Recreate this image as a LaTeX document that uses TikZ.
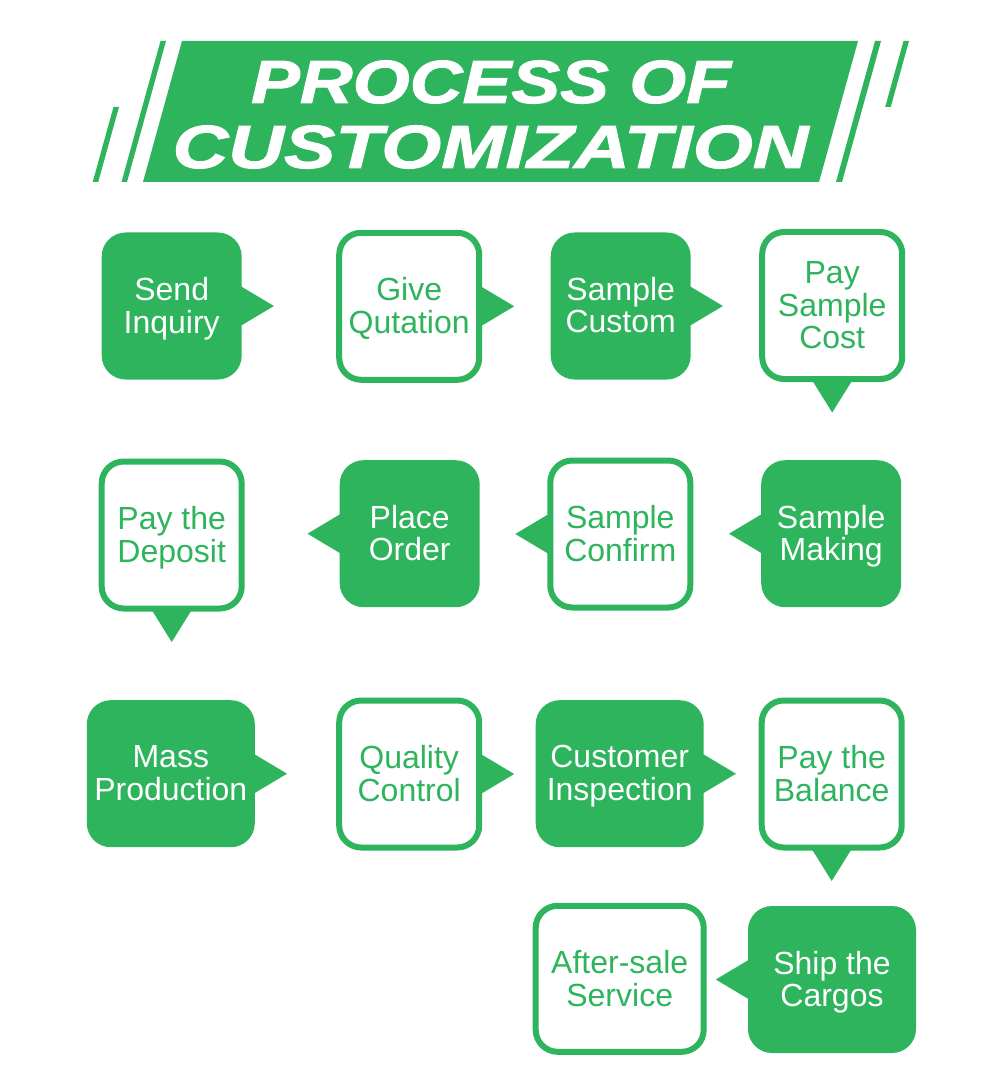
\documentclass[tikz,border=0pt]{standalone}
\usepackage{fontspec}
\setmainfont{Liberation Sans}
\newfontfamily\titlefont[FakeBold=1.5]{Liberation Sans Bold Italic}
\usetikzlibrary{calc}
\definecolor{gr}{RGB}{45,180,92}
\tikzset{
  fbox/.style={fill=gr, rounded corners=24pt, minimum width=140pt, minimum height=147pt, inner sep=0pt},
  obox/.style={draw=gr, fill=white, line width=6pt, rounded corners=22pt, minimum width=140pt, minimum height=147pt, inner sep=0pt},
  widebox/.style={minimum width=168pt},
  ftxt/.style={text=white, inner sep=0pt, font=\fontsize{32}{32}\selectfont},
  otxt/.style={text=gr, inner sep=0pt, font=\fontsize{32}{32}\selectfont},
  ptr/.style={fill=gr},
  ttl/.style={text=white, inner sep=0pt, anchor=base, font=\titlefont\fontsize{61}{61}\selectfont}
}
\newcommand\lines[1]{\begin{tabular}{@{}c@{}}#1\end{tabular}}
\newcommand\rptr[1]{\fill[ptr] ($(#1.east)+(-4,-21.5)$) -- ($(#1.east)+(32,0)$) -- ($(#1.east)+(-4,21.5)$) -- cycle;}
\newcommand\lptr[1]{\fill[ptr] ($(#1.west)+(4,-21.5)$) -- ($(#1.west)+(-32,0)$) -- ($(#1.west)+(4,21.5)$) -- cycle;}
\newcommand\dptr[1]{\fill[ptr] ($(#1.south)+(-21.5,-4)$) -- ($(#1.south)+(0,30.5)$) -- ($(#1.south)+(21.5,-4)$) -- cycle;}
\begin{document}
\begin{tikzpicture}[x=1pt,y=-1pt]
\useasboundingbox (0,0) rectangle (1000,1083);
\fill[white] (0,0) rectangle (1000,1083);
% banner
\fill[gr] (182,41) -- (858,41) -- (819,182) -- (143,182) -- cycle;
\fill[gr] (160.5,41) -- (166,41) -- (127,182) -- (121.5,182) -- cycle;
\fill[gr] (113.5,107) -- (119,107) -- (98.2,182) -- (92.7,182) -- cycle;
\fill[gr] (875,41) -- (881,41) -- (842,182) -- (836,182) -- cycle;
\fill[gr] (903.5,41) -- (909,41) -- (890.7,107) -- (885.2,107) -- cycle;
\node[ttl] (t1) at (491,103) {\scalebox{1.20}[1]{PROCESS OF}};
\node[ttl] (t2) at (490.5,168) {\scalebox{1.265}[1]{CUSTOMIZATION}};
% row 1
\node[fbox] (si) at (171.7,306) {};
\node[obox] (gq) at (409.2,306.3) {};
\node[fbox] (sc) at (620.7,306) {};
\node[obox] (ps) at (832.2,305.5) {};
% row 2
\node[obox] (pd) at (171.7,535) {};
\node[fbox] (po) at (409.7,533.7) {};
\node[obox] (sf) at (620.3,534) {};
\node[fbox] (sm) at (831.2,533.7) {};
% row 3
\node[fbox,widebox] (mp) at (170.8,773.7) {};
\node[obox] (qc) at (409.2,774) {};
\node[fbox,widebox] (ci) at (619.7,773.7) {};
\node[obox] (pb) at (831.7,774) {};
% row 4
\node[obox,widebox,minimum height=146pt] (as) at (619.7,978.8) {};
\node[fbox,widebox] (sh) at (832,979.5) {};
% pointers
\rptr{si}\rptr{gq}\rptr{sc}\dptr{ps}
\lptr{po}\lptr{sf}\lptr{sm}\dptr{pd}
\rptr{mp}\rptr{qc}\rptr{ci}\dptr{pb}
\lptr{sh}
% texts
\node[ftxt] (sit) at ($(si.center)+(0,4)$) {\lines{Send\\Inquiry}};
\node[otxt] (gqt) at ($(gq.center)+(0,4)$) {\lines{Give\\Qutation}};
\node[ftxt] (sct) at ($(sc.center)+(0,4)$) {\lines{Sample\\Custom}};
\node[otxt] (pst) at ($(ps.center)+(0,4)$) {\lines{Pay\\Sample\\Cost}};
\node[otxt] (pdt) at ($(pd.center)+(0,4)$) {\lines{Pay the\\Deposit}};
\node[ftxt] (pot) at ($(po.center)+(0,4)$) {\lines{Place\\Order}};
\node[otxt] (sft) at ($(sf.center)+(0,4)$) {\lines{Sample\\Confirm}};
\node[ftxt] (smt) at ($(sm.center)+(0,4)$) {\lines{Sample\\Making}};
\node[ftxt] (mpt) at ($(mp.center)+(0,4)$) {\lines{Mass\\Production}};
\node[otxt] (qct) at ($(qc.center)+(0,4)$) {\lines{Quality\\Control}};
\node[ftxt] (cit) at ($(ci.center)+(0,4)$) {\lines{Customer\\Inspection}};
\node[otxt] (pbt) at ($(pb.center)+(0,4)$) {\lines{Pay the\\Balance}};
\node[otxt] (ast) at ($(as.center)+(0,4)$) {\lines{After-sale\\Service}};
\node[ftxt] (sht) at ($(sh.center)+(0,4)$) {\lines{Ship the\\Cargos}};
\end{tikzpicture}
\end{document}
